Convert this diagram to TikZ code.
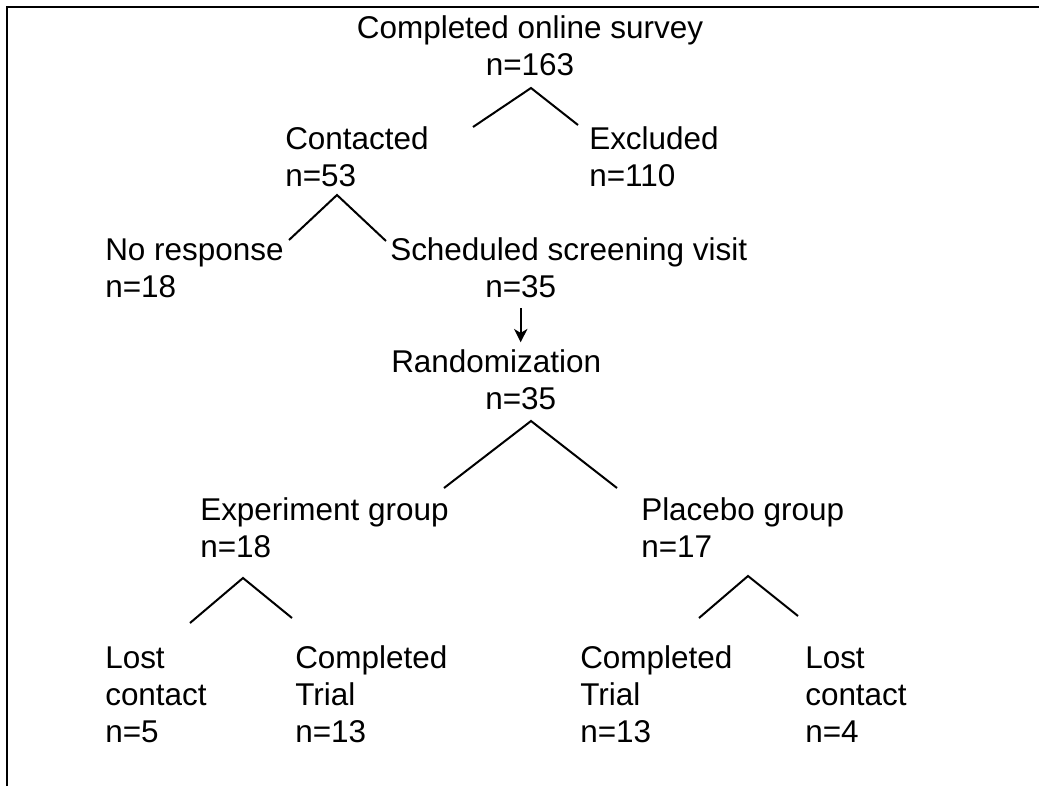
\documentclass[tikz,border=0pt]{standalone}
\usepackage{fontspec}
\setmainfont{Liberation Sans}
\usetikzlibrary{arrows.meta,positioning}
\tikzset{
	>={Stealth[length=10pt,width=10pt,inset=3pt]},
	txt/.style={inner sep=0pt, anchor=base west, align=left,
		font=\fontsize{23.6pt}{27.75pt}\selectfont},
	split/.style={line width=1.5pt},
	frame/.style={line width=1.5pt},
}

\begin{document}
\begin{tikzpicture}[x=0.75pt,y=-0.75pt]
	\useasboundingbox (0,0) rectangle (1039,786);
	\draw[frame] (7,786) -- (7,7) -- (1039,7);

	% text blocks, placed at the baseline of their last line
	\node[txt, anchor=base, align=center] (survey) at (530,75) {Completed online survey\\n=163};
	\node[txt] (contacted) at (285,186) {Contacted\\n=53};
	\node[txt] (excluded) at (589,186) {Excluded\\n=110};
	\node[txt] (noresp) at (105,297) {No response\\n=18};
	\node[txt] (sched) at (390,260) {Scheduled screening visit};
	\node[txt] (schedn) at (485,297) {n=35};
	\node[txt] (rand) at (391,372) {Randomization};
	\node[txt] (randn) at (485,409) {n=35};
	\node[txt] (expt) at (200,557) {Experiment group\\n=18};
	\node[txt] (placebo) at (641,557) {Placebo group\\n=17};
	\node[txt] (lostA) at (105,742) {Lost\\contact\\n=5};
	\node[txt] (doneA) at (295,742) {Completed\\Trial\\n=13};
	\node[txt] (doneB) at (580,742) {Completed\\Trial\\n=13};
	\node[txt] (lostB) at (805,742) {Lost\\contact\\n=4};

	% split points
	\coordinate (s1) at (531,88);  \coordinate (s1l) at (473,127); \coordinate (s1r) at (578,125);
	\coordinate (s2) at (337,195); \coordinate (s2l) at (289,240); \coordinate (s2r) at (386,241);
	\coordinate (s3) at (531,421); \coordinate (s3l) at (444,488); \coordinate (s3r) at (617,488);
	\coordinate (s4) at (243,578); \coordinate (s4l) at (190,623); \coordinate (s4r) at (292,618);
	\coordinate (s5) at (748,576); \coordinate (s5l) at (699,618); \coordinate (s5r) at (798,616);

	\draw[split] (s1l) -- (s1) -- (s1r);
	\draw[split] (s2l) -- (s2) -- (s2r);
	\draw[split] (s3l) -- (s3) -- (s3r);
	\draw[split] (s4l) -- (s4) -- (s4r);
	\draw[split] (s5l) -- (s5) -- (s5r);

	\draw[split, ->] ([yshift=-8pt]schedn.south) -- ([yshift=5pt]schedn.south |- rand.north);
\end{tikzpicture}
\end{document}
